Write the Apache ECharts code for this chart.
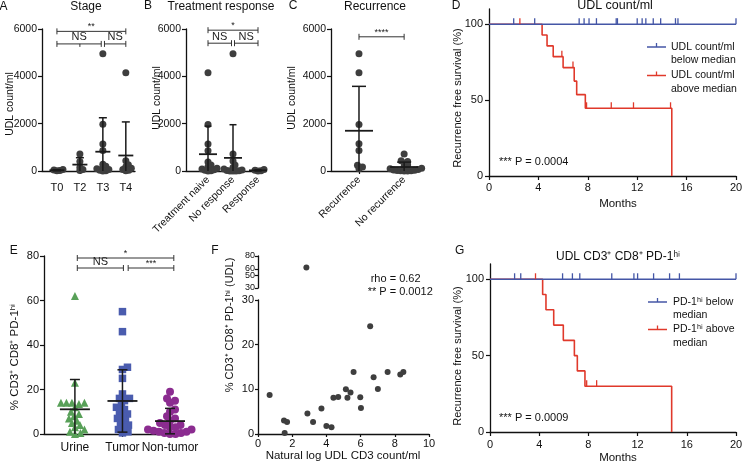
<!DOCTYPE html>
<html><head><meta charset="utf-8">
<script src="https://cdn.jsdelivr.net/npm/echarts@6/dist/echarts.min.js"></script>
<style>html,body{margin:0;padding:0;background:#fff}#c{width:748px;height:464px}</style>
</head><body><div id="c"></div>
<script>
// ================= DATA =================
// Panel A – Stage (UDL count/ml)
const stageCats = ['T0', 'T2', 'T3', 'T4'];
const stageT0 = [60, 20, 40, 10];
const stageT2 = [720, 400, 150, 60, 20];
const stageT3 = [4950, 1980, 1140, 870, 280, 200, 150, 100, 60, 30, 15, 5];
const stageT4 = [4150, 430, 260, 180, 120, 60, 30, 10];
// Panel B – Treatment response
const respCats = ['Treatment naive', 'No response', 'Response'];
const respNaive = [4150, 1970, 1140, 860, 380, 250, 180, 120, 80, 50, 30, 15, 5];
const respNo = [4950, 720, 420, 250, 150, 80, 40, 20, 10, 5, 5, 5];
const respYes = [60, 30, 15, 5];
// Panel C – Recurrence
const recCats = ['Recurrence', 'No recurrence'];
const recYes = [4950, 4150, 1970, 1150, 870, 240, 170, 100];
const recNo = [720, 430, 400, 330, 250, 180, 120, 90, 60, 40, 30, 20, 15, 10, 5, 5];
// Panel D – KM by UDL count/ml
const dRedTimes = [0, 4.3, 4.7, 5.2, 6.0, 6.9, 7.1, 7.8, 14.8];
const dRedSurv = [100, 92.9, 85.7, 78.6, 71.4, 62.5, 53.6, 44.6, 0];
const dBlueTimes = [0, 20];
const dBlueSurv = [100, 100];
const dBlueCensor = [2.0, 3.7, 7.3, 7.7, 8.1, 8.7, 10.3, 10.4, 12.0, 12.4, 12.7, 13.3, 13.9, 15.1, 15.3, 20];
const dRedCensor = [2.5, 5.9, 6.8, 7.9, 9.9, 11.7, 14.7];
// Panel E – % CD3+ CD8+ PD-1hi
const tissueCats = ['Urine', 'Tumor', 'Non-tumor'];
const urine = [62, 23, 14, 14, 13.5, 14, 14, 12, 10, 9, 8, 7, 6, 5, 4, 3, 2, 1, 0.5, 0];
const tumor = [55, 46, 30, 29, 25, 18, 16, 16, 15, 13, 12, 11, 10, 9, 8, 7, 6, 5, 4, 3, 2, 1, 0.5];
const nonTumor = [19, 16, 15, 14, 11, 10, 8, 7, 6, 5, 4, 4, 3, 3, 2, 2, 1.5, 1, 1, 0.5, 0.5, 0, 0];
// Panel F – correlation
const fLogCount = [0.68, 1.52, 1.70, 1.56, 2.89, 3.22, 3.71, 4.0, 4.3, 4.41, 4.69, 5.14, 5.23, 5.41, 5.59, 5.98, 6.02, 6.56, 6.76, 7.01, 7.58, 8.32, 8.5, 2.83];
const fPct = [8.75, 3.0, 2.7, 0.2, 4.6, 2.7, 5.7, 1.8, 1.5, 8.1, 8.3, 10.0, 8.1, 9.3, 13.9, 8.2, 5.8, 24.1, 12.7, 10.1, 13.9, 13.3, 13.9, 62];
// Panel G – KM by PD-1hi
const gRedTimes = [0, 4.28, 4.55, 5.18, 5.96, 6.86, 7.1, 7.72, 14.77];
const gRedSurv = [100, 90, 80, 70, 60, 50, 40, 30, 0];
const gBlueTimes = [0, 20];
const gBlueSurv = [100, 100];
const gBlueCensor = [2.0, 2.5, 5.9, 6.7, 7.3, 9.9, 11.7, 12.0, 13.3, 14.6, 15.4, 20];
const gRedCensor = [3.7, 7.86, 8.67];
// tick labels
const countTicks = [0, 2000, 4000, 6000];
const survTicks = [0, 50, 100];
const fUpperTicks = [30, 40, 50, 60, 70, 80];

// ================= LAYOUT / STYLE =================
const FF = '"Liberation Sans", Arial, Helvetica, sans-serif';
const AX = '#111';
const DOT = '#3e3e3e';
const BLUE = '#4456a6', RED = '#e0392b';
const GREEN = '#58a058', SQBLUE = '#4a5cae', PURPLE = '#8b2c90';

const grids = [
  {left: 42, top: 29, width: 93, height: 142},   // 0 A
  {left: 186, top: 29, width: 77, height: 142},  // 1 B
  {left: 331, top: 29, width: 79, height: 142},  // 2 C
  {left: 489, top: 9, width: 247, height: 167},  // 3 D
  {left: 44, top: 256, width: 136, height: 178}, // 4 E
  {left: 258, top: 256, width: 171, height: 32}, // 5 F upper
  {left: 258, top: 300, width: 171, height: 134},// 6 F lower
  {left: 490, top: 264, width: 246, height: 168} // 7 G
];
const xr = {0: [-0.65, 3.4], 1: [-0.88, 2.2], 2: [-0.62, 1.13], 4: [-0.65, 2.21]};

function mean(a) { return a.reduce((s, v) => s + v, 0) / a.length; }
function sd(a) { const m = mean(a); return Math.sqrt(a.reduce((s, v) => s + (v - m) * (v - m), 0) / (a.length - 1)); }
function survAt(times, surv, t) { let s = surv[0]; for (let i = 0; i < times.length; i++) if (times[i] <= t) s = surv[i]; return s; }

// beeswarm placement (layout only): horizontal offsets so symbols do not pile up
function swarm(vals, center, pxX, pxY, diam) {
  const order = vals.map((v, i) => i).sort((a, b) => vals[a] - vals[b]);
  const placed = [], out = new Array(vals.length);
  order.forEach(i => {
    const py = vals[i] * pxY;
    let off = 0;
    for (let k = 0; k < 400; k++) {
      const c = k === 0 ? 0 : (k % 2 ? 1 : -1) * Math.ceil(k / 2) * 0.5;
      if (placed.every(p => Math.hypot(p[0] - c, p[1] - py) >= diam)) { off = c; break; }
    }
    placed.push([off, py]);
    out[i] = [center + off / pxX, vals[i]];
  });
  return out;
}
function dots(gi, vals, idx, ymax, color, symbol, size, diam) {
  const g = grids[gi], r = xr[gi];
  return {type: 'scatter', xAxisIndex: gi, yAxisIndex: gi, silent: true, z: 3, clip: false,
    data: swarm(vals, idx, g.width / (r[1] - r[0]), g.height / ymax, diam),
    symbol: symbol, symbolSize: size, itemStyle: {color: color, opacity: 1}};
}
function errBars(gi, groups, hm, hc) {
  return {type: 'custom', xAxisIndex: gi, yAxisIndex: gi, silent: true, z: 5, clip: false,
    data: groups.map((g, i) => [i, mean(g), sd(g)]),
    renderItem: (p, api) => {
      const x = api.value(0), m = api.value(1), s = api.value(2);
      const pm = api.coord([x, m]), pt = api.coord([x, m + s]), pb = api.coord([x, Math.max(0, m - s)]);
      const st = {stroke: '#1a1a1a', lineWidth: 1.5};
      const ch = [
        {type: 'line', shape: {x1: pm[0] - hm, y1: pm[1], x2: pm[0] + hm, y2: pm[1]}, style: {stroke: '#1a1a1a', lineWidth: 1.8}},
        {type: 'line', shape: {x1: pt[0], y1: pt[1], x2: pb[0], y2: pb[1]}, style: st},
        {type: 'line', shape: {x1: pt[0] - hc, y1: pt[1], x2: pt[0] + hc, y2: pt[1]}, style: st}
      ];
      if (m - s > 0) ch.push({type: 'line', shape: {x1: pb[0] - hc, y1: pb[1], x2: pb[0] + hc, y2: pb[1]}, style: st});
      return {type: 'group', children: ch};
    }};
}
// significance brackets: [x1, x2, y, label, middleTickX or null]
function brackets(gi, items, fsz) {
  return {type: 'custom', xAxisIndex: gi, yAxisIndex: gi, silent: true, z: 6, clip: false,
    data: items.map(it => [it[0], it[1], it[2]]),
    renderItem: (p, api) => {
      const it = items[p.dataIndex];
      const a = api.coord([it[0], it[2]]), b = api.coord([it[1], it[2]]);
      const st = {stroke: '#333', lineWidth: 1};
      const ch = [
        {type: 'line', shape: {x1: a[0], y1: a[1], x2: b[0], y2: b[1]}, style: st},
        {type: 'line', shape: {x1: a[0], y1: a[1] - 3, x2: a[0], y2: a[1] + 3}, style: st},
        {type: 'line', shape: {x1: b[0], y1: b[1] - 3, x2: b[0], y2: b[1] + 3}, style: st},
        {type: 'text', x: (a[0] + b[0]) / 2, y: a[1] - (it[3] === 'NS' ? 1 : 0),
          style: {text: it[3], fill: '#222', font: (it[3] === 'NS' ? 11 : fsz) + 'px ' + FF,
            align: 'center', verticalAlign: 'bottom', textAlign: 'center', textVerticalAlign: 'bottom'}}
      ];
      if (it[4] != null) { const c = api.coord([it[4], it[2]]); ch.push({type: 'line', shape: {x1: c[0], y1: c[1], x2: c[0], y2: c[1] + 3}, style: st}); }
      return {type: 'group', children: ch};
    }};
}

const axLine = {show: true, onZero: false, lineStyle: {color: AX, width: 1.3}};
const lbl = (o) => Object.assign({color: '#111', fontFamily: FF, fontSize: 10.5, formatter: v => String(v)}, o || {});
function catX(gi, cats, labelOpts) {
  const idx = cats.map((c, i) => i);
  return {gridIndex: gi, type: 'value', min: xr[gi][0], max: xr[gi][1],
    axisLine: axLine, splitLine: {show: false},
    axisTick: {show: true, customValues: idx, length: 3, lineStyle: {color: AX, width: 1.2}},
    axisLabel: lbl(Object.assign({customValues: idx, formatter: v => cats[Math.round(v)]}, labelOpts))};
}
function valY(gi, min, max, interval, extra) {
  return Object.assign({gridIndex: gi, type: 'value', min: min, max: max, interval: interval,
    axisLine: axLine, splitLine: {show: false},
    axisTick: {show: true, length: 4, lineStyle: {color: AX, width: 1.2}},
    axisLabel: lbl({margin: 5})}, extra || {});
}

const xAxes = [
  catX(0, stageCats, {margin: 11, fontSize: 11}),
  catX(1, respCats, {rotate: 45, margin: 7, fontSize: 10.5}),
  catX(2, recCats, {rotate: 45, margin: 7, fontSize: 10.5}),
  {gridIndex: 3, type: 'value', min: 0, max: 20, interval: 4, axisLine: axLine, splitLine: {show: false},
    axisTick: {length: 4, lineStyle: {color: AX, width: 1.2}}, axisLabel: lbl({margin: 6, fontSize: 11})},
  catX(4, tissueCats, {margin: 8, fontSize: 12}),
  {gridIndex: 5, type: 'value', min: 0, max: 10, show: false},
  {gridIndex: 6, type: 'value', min: 0, max: 10, interval: 2, axisLine: axLine, splitLine: {show: false},
    axisTick: {length: 3, lineStyle: {color: AX, width: 1.2}}, axisLabel: lbl({margin: 4, fontSize: 11})},
  {gridIndex: 7, type: 'value', min: 0, max: 20, interval: 4, axisLine: axLine, splitLine: {show: false},
    axisTick: {length: 4, lineStyle: {color: AX, width: 1.2}}, axisLabel: lbl({margin: 7, fontSize: 11})}
];
const survY = (gi) => valY(gi, 0, 110, 50, {
  axisTick: {show: true, length: 4, customValues: survTicks, lineStyle: {color: AX, width: 1.2}},
  axisLabel: lbl({margin: 6, fontSize: 11, customValues: survTicks})});
const yAxes = [
  valY(0, countTicks[0], countTicks[3], 2000),
  valY(1, countTicks[0], countTicks[3], 2000),
  valY(2, countTicks[0], countTicks[3], 2000),
  survY(3),
  valY(4, 0, 80, 20, {axisLabel: lbl({margin: 5, fontSize: 11})}),
  valY(5, 30, 80, 10, {axisTick: {length: 3, customValues: fUpperTicks, lineStyle: {color: AX, width: 1.2}},
    axisLabel: lbl({margin: 3, fontSize: 9, lineHeight: 6, customValues: fUpperTicks, hideOverlap: false, showMinLabel: true, showMaxLabel: true})}),
  valY(6, 0, 30, 10, {axisTick: {length: 3, lineStyle: {color: AX, width: 1.2}}, axisLabel: lbl({margin: 4, fontSize: 11})}),
  survY(7)
];

function km(gi, times, surv, color, z) {
  return {type: 'line', xAxisIndex: gi, yAxisIndex: gi, step: 'end', symbol: 'none', silent: true, z: z,
    data: times.map((t, i) => [t, surv[i]]), lineStyle: {color: color, width: 1.6}};
}
function censor(gi, cens, times, surv, color, z) {
  return {type: 'scatter', xAxisIndex: gi, yAxisIndex: gi, silent: true, z: z, clip: false,
    data: cens.map(t => [t, survAt(times, surv, t)]), symbol: 'rect', symbolSize: [1.3, 6], symbolOffset: [0, -3],
    itemStyle: {color: color, opacity: 1}};
}

const series = [
  // A
  dots(0, stageT0, 0, 6000, DOT, 'circle', 7, 3), dots(0, stageT2, 1, 6000, DOT, 'circle', 7, 3),
  dots(0, stageT3, 2, 6000, DOT, 'circle', 7, 3), dots(0, stageT4, 3, 6000, DOT, 'circle', 7, 3),
  errBars(0, [stageT0, stageT2, stageT3, stageT4], 7.5, 4),
  brackets(0, [[0, 3, 5900, '**', null], [0, 1.93, 5370, 'NS', 1], [2.07, 3, 5370, 'NS', null]], 9),
  // B
  dots(1, respNaive, 0, 6000, DOT, 'circle', 7, 3), dots(1, respNo, 1, 6000, DOT, 'circle', 7, 3),
  dots(1, respYes, 2, 6000, DOT, 'circle', 7, 3),
  errBars(1, [respNaive, respNo, respYes], 9, 3.5),
  brackets(1, [[0, 2, 5950, '*', null], [0, 0.94, 5400, 'NS', null], [1.06, 2, 5400, 'NS', null]], 9),
  // C
  dots(2, recYes, 0, 6000, DOT, 'circle', 7, 3.5), dots(2, recNo, 1, 6000, DOT, 'circle', 7, 3.5),
  errBars(2, [recYes, recNo], 14, 7),
  brackets(2, [[0, 1, 5670, '****', null]], 9),
  // D
  km(3, dRedTimes, dRedSurv, RED, 2), km(3, dBlueTimes, dBlueSurv, BLUE, 3),
  censor(3, dRedCensor, dRedTimes, dRedSurv, RED, 4), censor(3, dBlueCensor, dBlueTimes, dBlueSurv, BLUE, 4),
  // E
  dots(4, urine, 0, 80, GREEN, 'triangle', 8, 5.2), dots(4, tumor, 1, 80, SQBLUE, 'rect', 7.5, 5.2),
  dots(4, nonTumor, 2, 80, PURPLE, 'circle', 8, 5.2),
  errBars(4, [urine, tumor, nonTumor], 15, 5),
  brackets(4, [[0.05, 2.08, 79.1, '*', null], [0.05, 1.02, 74.6, 'NS', null], [1.12, 2.08, 74.6, '***', null]], 9),
  // F
  {type: 'scatter', xAxisIndex: 6, yAxisIndex: 6, silent: true, symbolSize: 6, itemStyle: {color: DOT, opacity: 1},
    data: fLogCount.map((x, i) => [x, fPct[i]]).filter(d => d[1] <= 30)},
  {type: 'scatter', xAxisIndex: 5, yAxisIndex: 5, silent: true, symbolSize: 6, itemStyle: {color: DOT, opacity: 1},
    data: fLogCount.map((x, i) => [x, fPct[i]]).filter(d => d[1] > 30)},
  // G
  km(7, gRedTimes, gRedSurv, RED, 2), km(7, gBlueTimes, gBlueSurv, BLUE, 3),
  censor(7, gRedCensor, gRedTimes, gRedSurv, RED, 4), censor(7, gBlueCensor, gBlueTimes, gBlueSurv, BLUE, 4)
];

function txt(text, x, y, size, align, rot, color) {
  const o = {type: 'text', x: x, y: y, silent: true, z: 10,
    style: {text: text, fill: color || '#111', font: size + 'px ' + FF,
      align: align || 'center', verticalAlign: 'middle', textAlign: align || 'center', textVerticalAlign: 'middle'}};
  if (rot) o.rotation = Math.PI / 2;
  return o;
}
function legLine(x1, x2, y, color) {
  return [
    {type: 'line', silent: true, shape: {x1: x1, y1: y, x2: x2, y2: y}, style: {stroke: color, lineWidth: 1.5}},
    {type: 'line', silent: true, shape: {x1: (x1 + x2) / 2, y1: y - 4, x2: (x1 + x2) / 2, y2: y}, style: {stroke: color, lineWidth: 1.3}}
  ];
}
const graphics = [
  txt('A', 3.5, 7, 12), txt('B', 148, 6, 12), txt('C', 293, 6, 12), txt('D', 456, 6, 12),
  txt('E', 13.7, 251, 12), txt('F', 215, 251, 12), txt('G', 459.7, 251, 12),
  txt('Stage', 86, 7, 12), txt('Treatment response', 221, 7, 12), txt('Recurrence', 375, 7, 12),
  txt('UDL count/ml', 615, 6, 12.5), txt('UDL CD3⁺ CD8⁺ PD-1ʰⁱ', 618, 257, 12),
  txt('UDL count/ml', 10, 104, 10.5, 'center', true), txt('UDL count/ml', 157, 98, 10.5, 'center', true),
  txt('UDL count/ml', 292, 98, 10.5, 'center', true),
  txt('Recurrence free survival (%)', 458, 98, 11, 'center', true),
  txt('Recurrence free survival (%)', 458, 356, 11, 'center', true),
  txt('% CD3⁺ CD8⁺ PD-1ʰⁱ', 15, 357, 11.5, 'center', true),
  txt('% CD3⁺ CD8⁺ PD-1ʰⁱ (UDL)', 230, 325, 11, 'center', true),
  txt('Months', 618, 204, 11.5), txt('Months', 618, 458, 11.5),
  txt('Natural log UDL CD3 count/ml', 343, 456, 11.5),
  txt('*** P = 0.0004', 499, 162, 11, 'left'), txt('*** P = 0.0009', 499, 418, 11, 'left'),
  txt('rho = 0.62', 370.7, 279, 11, 'left'), txt('** P = 0.0012', 367.7, 292, 11, 'left'),
  txt('UDL count/ml', 671, 47, 10.5, 'left'), txt('below median', 671, 60, 10.5, 'left'),
  txt('UDL count/ml', 671, 75.5, 10.5, 'left'), txt('above median', 671, 89, 10.5, 'left'),
  txt('PD-1ʰⁱ below', 673, 302, 10.5, 'left'), txt('median', 673, 315, 10.5, 'left'),
  txt('PD-1ʰⁱ above', 673, 329.5, 10.5, 'left'), txt('median', 673, 343, 10.5, 'left')
].concat(legLine(647, 666, 47, BLUE), legLine(647, 666, 75.5, RED), legLine(648, 667, 302, BLUE), legLine(648, 667, 329.5, RED));

const chart = echarts.init(document.getElementById('c'), null, {renderer: 'canvas'});
chart.setOption({
  backgroundColor: '#fff', animation: false,
  grid: grids.map(g => Object.assign({containLabel: false}, g)),
  xAxis: xAxes, yAxis: yAxes, series: series, graphic: {elements: graphics}
});
</script></body></html>
